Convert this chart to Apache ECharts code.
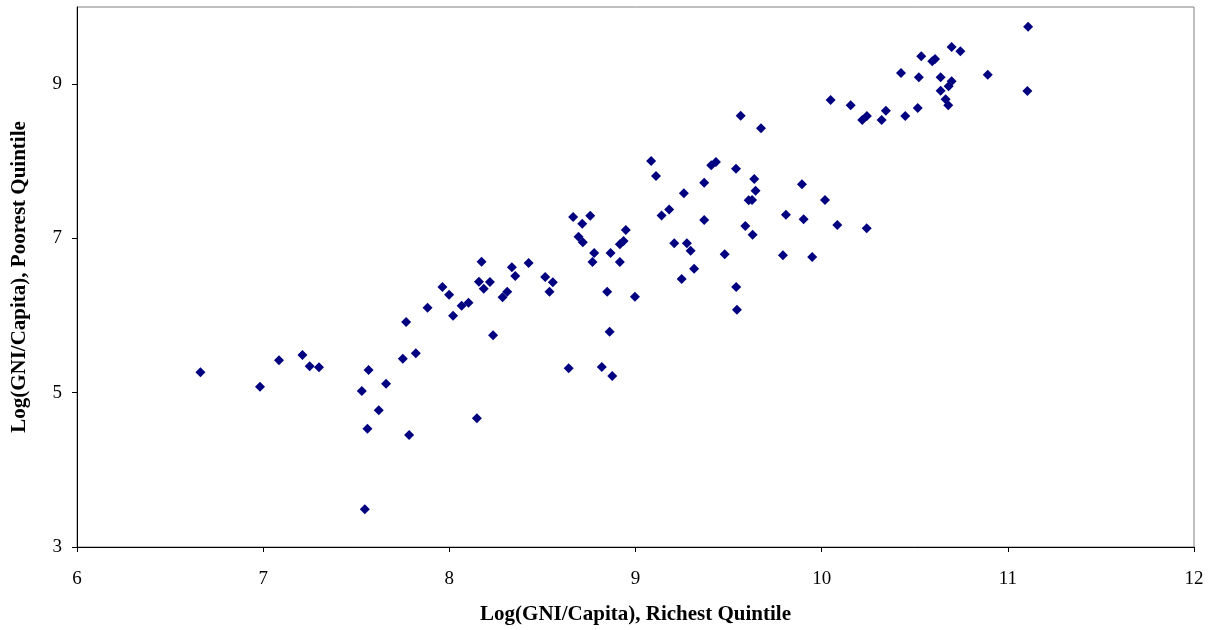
<!DOCTYPE html>
<html>
<head>
<meta charset="utf-8">
<script src="https://cdn.jsdelivr.net/npm/echarts@6/dist/echarts.min.js"></script>
<style>html,body{margin:0;padding:0;background:#fff}#c{width:1212px;height:630px}</style>
</head>
<body>
<div id="c"></div>
<script>
const xTitle = 'Log(GNI/Capita), Richest Quintile';
const yTitle = 'Log(GNI/Capita), Poorest Quintile';
const xTicks = [6, 7, 8, 9, 10, 11, 12];
const yTicks = [3, 5, 7, 9];
const richest = [
6.663,6.983,7.085,7.211,7.250,7.300,7.566,7.530,7.660,7.621,7.560,7.546,7.784,8.148,7.750,7.820,7.768,7.883,7.963,7.999,8.020,8.066,8.103,8.173,8.159,8.218,8.185,8.235,
8.336,8.354,8.426,8.286,8.311,8.515,8.556,8.538,8.641,8.665,8.714,8.757,8.694,8.717,8.778,8.769,8.866,8.916,8.948,8.916,8.936,8.848,8.997,8.861,8.819,8.875,
9.084,9.110,9.140,9.181,9.208,9.276,9.296,9.260,9.369,9.369,9.315,9.248,9.407,9.432,9.540,9.638,9.645,9.608,9.626,9.590,9.629,9.479,9.541,9.545,9.894,9.808,9.903,9.792,9.949,
9.565,9.674,10.048,10.156,10.218,10.243,10.322,10.345,10.449,10.516,10.426,10.522,10.535,10.594,10.609,10.639,10.698,10.745,10.698,10.682,10.639,10.666,10.680,10.892,11.109,11.105,10.018,10.084,10.242
];
const poorest = [
5.265,5.078,5.420,5.489,5.342,5.330,5.295,5.022,5.117,4.772,4.534,3.489,4.452,4.668,5.441,5.511,5.917,6.102,6.370,6.271,5.998,6.128,6.167,6.698,6.439,6.435,6.348,5.744,
6.626,6.513,6.682,6.237,6.310,6.500,6.431,6.310,5.317,7.278,7.191,7.295,7.023,6.950,6.811,6.695,6.811,6.695,7.109,6.924,6.967,6.310,6.245,5.791,5.333,5.217,
8.004,7.810,7.298,7.376,6.937,6.937,6.841,7.585,7.723,7.239,6.608,6.474,7.948,7.991,7.904,7.771,7.619,7.494,7.498,7.161,7.049,6.794,6.370,6.076,7.702,7.308,7.248,6.781,6.759,
8.591,8.428,8.795,8.726,8.535,8.587,8.535,8.656,8.587,8.691,9.145,9.089,9.361,9.296,9.326,9.089,9.482,9.426,9.037,8.972,8.915,8.804,8.726,9.123,9.745,8.911,7.498,7.174,7.131
];
const points = richest.map((x, i) => [x, poorest[i]]);
const font = 'Liberation Serif, Times New Roman, serif';
const chart = echarts.init(document.getElementById('c'), null, {renderer: 'canvas'});
chart.setOption({
  animation: false,
  backgroundColor: '#ffffff',
  grid: {left: 77, right: 18, top: 7, bottom: 83, containLabel: false, outerBoundsMode: 'none',
         show: true, borderColor: '#808080', borderWidth: 1, backgroundColor: 'transparent'},
  xAxis: {
    type: 'value', min: xTicks[0], max: xTicks[xTicks.length - 1], interval: 1,
    name: xTitle, nameLocation: 'middle', nameGap: 57,
    nameTextStyle: {fontFamily: font, fontWeight: 'bold', fontSize: 21, color: '#000'},
    axisLine: {show: true, onZero: false, lineStyle: {color: '#000', width: 1}},
    axisTick: {show: true, inside: false, length: 5, lineStyle: {color: '#000'}},
    axisLabel: {fontFamily: font, fontSize: 19, color: '#000', margin: 23},
    splitLine: {show: false}
  },
  yAxis: {
    type: 'value', min: yTicks[0], max: 10,
    name: yTitle, nameLocation: 'middle', nameGap: 47, nameRotate: 90,
    nameTextStyle: {fontFamily: font, fontWeight: 'bold', fontSize: 21, color: '#000'},
    axisLine: {show: true, onZero: false, lineStyle: {color: '#000', width: 1}},
    axisTick: {show: true, inside: false, length: 5, customValues: yTicks, lineStyle: {color: '#000'}},
    axisLabel: {fontFamily: font, fontSize: 19, color: '#000', margin: 15, customValues: yTicks},
    splitLine: {show: false}
  },
  series: [{
    type: 'scatter',
    data: points,
    symbol: 'diamond',
    symbolSize: 10,
    itemStyle: {color: '#000080', opacity: 1}
  }]
});
</script>
</body>
</html>
